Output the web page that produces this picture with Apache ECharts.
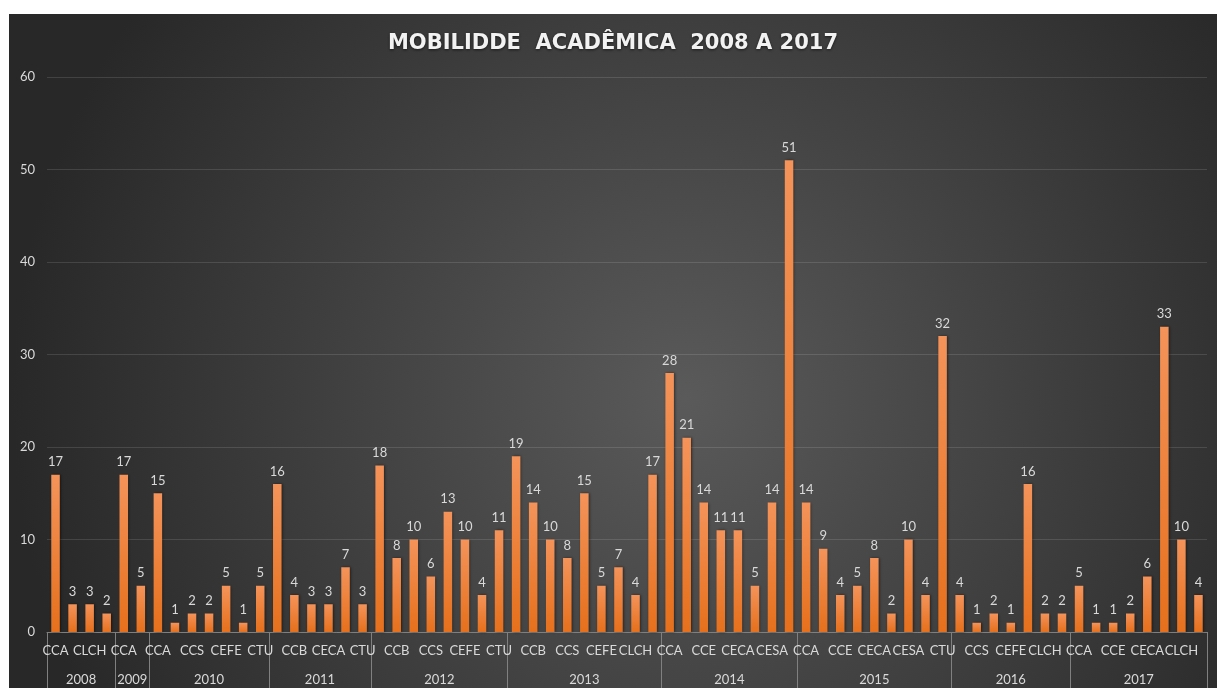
<!DOCTYPE html>
<html>
<head>
<meta charset="utf-8">
<title>Mobilidade acadêmica 2008 a 2017</title>
<script src="https://cdn.jsdelivr.net/npm/echarts@6/dist/echarts.min.js"></script>
<style>
  html, body { margin: 0; padding: 0; background: #fff; }
  #chart { position: absolute; left: 9px; top: 14px; width: 1208px; height: 674px; }
</style>
</head>
<body>
<div id="chart"></div>
<script>
// one entry per year, centres shown below the bars
const years = ['2008', '2009', '2010', '2011', '2012', '2013', '2014', '2015', '2016', '2017'];

const centres = [
  ['CCA', 'CCE', 'CLCH', 'CTU'],
  ['CCA', 'CCB'],
  ['CCA', 'CCB', 'CCS', 'CECA', 'CEFE', 'CLCH', 'CTU'],
  ['CCA', 'CCB', 'CCS', 'CECA', 'CEFE', 'CTU'],
  ['CCA', 'CCB', 'CCE', 'CCS', 'CECA', 'CEFE', 'CLCH', 'CTU'],
  ['CCA', 'CCB', 'CCE', 'CCS', 'CECA', 'CEFE', 'CESA', 'CLCH', 'CTU'],
  ['CCA', 'CCB', 'CCE', 'CCS', 'CECA', 'CEFE', 'CESA', 'CTU'],
  ['CCA', 'CCB', 'CCE', 'CCS', 'CECA', 'CEFE', 'CESA', 'CLCH', 'CTU'],
  ['CCA', 'CCS', 'CECA', 'CEFE', 'CESA', 'CLCH', 'CTU'],
  ['CCA', 'CCB', 'CCE', 'CCS', 'CECA', 'CEFE', 'CLCH', 'CTU']
];

const counts = [
  [17, 3, 3, 2],
  [17, 5],
  [15, 1, 2, 2, 5, 1, 5],
  [16, 4, 3, 3, 7, 3],
  [18, 8, 10, 6, 13, 10, 4, 11],
  [19, 14, 10, 8, 15, 5, 7, 4, 17],
  [28, 21, 14, 11, 11, 5, 14, 51],
  [14, 9, 4, 5, 8, 2, 10, 4, 32],
  [4, 1, 2, 1, 16, 2, 2],
  [5, 1, 1, 2, 6, 33, 10, 4]
];

const yTicks = [0, 10, 20, 30, 40, 50, 60];

// flatten groups, remember where each year starts and its middle
const labels = [];
const values = [];
const bounds = [0];
const mids = [];
centres.forEach((g, i) => {
  const start = labels.length;
  g.forEach((c, j) => { labels.push(c); values.push(counts[i][j]); });
  bounds.push(labels.length);
  mids.push((start + labels.length) / 2);
});

const txt = '#d9d9d9';
const font = 'Lato, "Open Sans", sans-serif';

const chart = echarts.init(document.getElementById('chart'), null, { renderer: 'canvas' });

chart.setOption({
  backgroundColor: {
    type: 'radial', x: 0.56, y: 0.57, r: 1.0,
    colorStops: [
      { offset: 0, color: '#5a5a5a' },
      { offset: 1, color: '#282828' }
    ]
  },
  title: {
    text: 'MOBILIDDE  ACADÊMICA  2008 A 2017',
    left: 'center',
    top: 14,
    textStyle: {
      color: '#f2f2f2', fontSize: 21, fontWeight: 'bold', fontFamily: '"DejaVu Sans", sans-serif',
      textShadowColor: 'rgba(0,0,0,0.6)', textShadowBlur: 3, textShadowOffsetY: 1
    }
  },
  grid: { left: 38, right: 10, top: 63, bottom: 56 },
  xAxis: [
    {
      type: 'category',
      data: labels,
      axisLine: { lineStyle: { color: '#808080' } },
      axisTick: { show: false },
      axisLabel: { interval: 1, color: txt, fontSize: 13, fontFamily: font, margin: 12 }
    },
    {
      type: 'value',
      min: 0,
      max: labels.length,
      position: 'bottom',
      axisLine: { show: false },
      splitLine: { show: false },
      axisTick: { show: true, customValues: bounds, length: 56, lineStyle: { color: '#808080' } },
      axisLabel: {
        customValues: mids,
        color: txt, fontSize: 13, fontFamily: font, margin: 41,
        formatter: v => years[mids.indexOf(v)] || ''
      }
    }
  ],
  yAxis: {
    type: 'value',
    min: yTicks[0],
    max: yTicks[yTicks.length - 1],
    interval: 10,
    axisLine: { show: false },
    axisTick: { show: false },
    splitLine: { lineStyle: { color: 'rgba(255,255,255,0.12)' } },
    axisLabel: { color: txt, fontSize: 13, fontFamily: font, margin: 12 }
  },
  series: [{
    type: 'bar',
    xAxisIndex: 0,
    data: values,
    barWidth: '50%',
    itemStyle: {
      color: new echarts.graphic.LinearGradient(0, 0, 0, 1, [
        { offset: 0, color: '#f4935a' },
        { offset: 1, color: '#e6701c' }
      ]),
      shadowColor: 'rgba(0,0,0,0.5)',
      shadowBlur: 3,
      shadowOffsetX: 1
    },
    label: {
      show: true, position: 'top', distance: 6,
      color: txt, fontSize: 13, fontFamily: font
    }
  }]
});
</script>
</body>
</html>
